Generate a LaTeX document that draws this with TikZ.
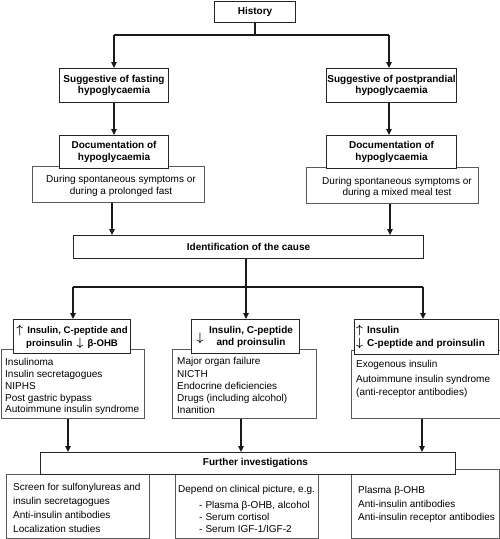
\documentclass[tikz,border=0pt]{standalone}
\usepackage{fontspec}
\setmainfont{Liberation Sans}
\usetikzlibrary{arrows.meta}
\newcommand\uparr{\mbox{\fontsize{12}{12}\selectfont\boldmath$\uparrow$}}
\newcommand\dnarr{\mbox{\fontsize{12}{12}\selectfont\boldmath$\downarrow$}}
\begin{document}
\begin{tikzpicture}[x=1pt,y=-1pt,
  hdr/.style={draw=black!85,fill=white,line width=1.1pt,inner sep=0pt,anchor=north west,
    align=center,font=\fontsize{10}{11.6}\selectfont\bfseries},
  sub/.style={draw=black!65,fill=white,line width=0.9pt,inner sep=0pt,anchor=north west},
  txt/.style={inner sep=0pt,anchor=north west,align=left},
  ln/.style={draw=black!90,line width=1.2pt},
  arr/.style={ln,-{Triangle[length=6pt,width=5.5pt]}}]
\useasboundingbox (0,0) rectangle (500,539);
% top boxes
\node[hdr,minimum width=81pt,minimum height=21pt] (history) at (214,1) {History};
\node[hdr,minimum width=109pt,minimum height=34pt] (fast) at (59,68) {Suggestive of fasting\\hypoglycaemia};
\node[hdr,minimum width=130pt,minimum height=34pt] (post) at (326,68) {Suggestive of postprandial\\hypoglycaemia};
% documentation
\node[sub,minimum width=172pt,minimum height=36pt] (doc1b) at (32,166) {};
\node[inner sep=0pt,align=center,font=\fontsize{10}{11.8}\selectfont] (doc1t) at (121,186) {During spontaneous symptoms or\\during a prolonged fast};
\node[hdr,minimum width=109pt,minimum height=33pt] (doc1) at (59,135) {Documentation of\\hypoglycaemia};
\node[sub,minimum width=172pt,minimum height=36pt] (doc2b) at (306,167) {};
\node[inner sep=0pt,align=center,font=\fontsize{10}{11.8}\selectfont] (doc2t) at (397,187.5) {During spontaneous symptoms or\\during a mixed meal test};
\node[hdr,minimum width=130pt,minimum height=33pt] (doc2) at (326,135) {Documentation of\\hypoglycaemia};
% identification
\node[hdr,minimum width=350pt,minimum height=23pt] (ident) at (73,235) {Identification of the cause};
% cause lists
\node[sub,minimum width=143pt,minimum height=69pt] (h1b) at (1,349) {};
\node[txt,font=\fontsize{10}{11.75}\selectfont] (h1t) at (5,358.4) {Insulinoma\\Insulin secretagogues\\NIPHS\\Post gastric bypass\\Autoimmune insulin syndrome};
\node[hdr,minimum width=117pt,minimum height=34pt,font=\fontsize{9.6}{13}\selectfont\bfseries] (h1) at (13,319) {\uparr\hspace{4pt}Insulin, C-peptide and\\proinsulin\hspace{4pt}\dnarr\hspace{4pt}β-OHB};
\node[sub,minimum width=144pt,minimum height=69pt] (h2b) at (172,349) {};
\node[txt,font=\fontsize{10}{12.2}\selectfont] (h2t) at (177,357.5) {Major organ failure\\NICTH\\Endocrine deficiencies\\Drugs (including alcohol)\\Inanition};
\node[hdr,minimum width=108pt,minimum height=34pt] (h2) at (191,319) {};
\node[inner sep=0pt] (h2a) at (200,338) {\dnarr};
\node[inner sep=0pt,align=center,font=\fontsize{10}{12}\selectfont\bfseries] (h2h) at (251,336.5) {Insulin, C-peptide\\and proinsulin};
\node[sub,minimum width=148.5pt,minimum height=68pt] (h3b) at (351,350) {};
\node[txt,font=\fontsize{10}{13}\selectfont] (h3t) at (356,360.5) {Exogenous insulin\\[2pt]Autoimmune insulin syndrome\\(anti-receptor antibodies)};
\node[hdr,minimum width=144pt,minimum height=35pt] (h3) at (354,319) {};
\node[inner sep=0pt,anchor=west,align=left,font=\fontsize{10}{13.5}\selectfont\bfseries] (h3h) at (356,337) {\uparr\hspace{4pt}Insulin\\\dnarr\hspace{4pt}C-peptide and proinsulin};
% further investigations
\node[sub,minimum width=143pt,minimum height=64pt] (b1) at (6,474) {};
\node[txt,font=\fontsize{10}{14}\selectfont] (b1t) at (13,483.4) {Screen for sulfonylureas and\\insulin secretagogues\\Anti-insulin antibodies\\Localization studies};
\node[sub,minimum width=143pt,minimum height=65pt] (b2) at (175,473) {};
\node[txt,font=\fontsize{10}{12}\selectfont] (b2t) at (178,485.4) {Depend on clinical picture, e.g.\\[4pt]\hspace*{21pt}-\hspace{3pt}Plasma β-OHB, alcohol\\\hspace*{21pt}-\hspace{3pt}Serum cortisol\\\hspace*{21pt}-\hspace{3pt}Serum IGF-1/IGF-2};
\node[sub,minimum width=148pt,minimum height=69pt] (b3) at (351,469) {};
\node[txt,font=\fontsize{10}{13.5}\selectfont] (b3t) at (358,486.4) {Plasma β-OHB\\Anti-insulin antibodies\\Anti-insulin receptor antibodies};
\node[hdr,minimum width=415pt,minimum height=22pt] (further) at (40,452) {};
\node[inner sep=0pt,font=\fontsize{10}{12}\selectfont\bfseries] (furthert) at (255.5,463) {Further investigations};
% connectors
\coordinate (j1) at (255,35);
\coordinate (jl1) at (114,35);
\coordinate (jr1) at (389,35);
\draw[ln] (history.south -| j1) -- (j1);
\draw[ln] (jl1) -- (jr1);
\draw[arr] (jl1) -- (jl1 |- fast.north);
\draw[arr] (jr1) -- (jr1 |- post.north);
\draw[arr] (jl1 |- fast.south) -- (jl1 |- doc1.north);
\draw[arr] (jr1 |- post.south) -- (jr1 |- doc2.north);
\coordinate (xa) at (112,0);
\coordinate (xb) at (390,0);
\draw[arr] (xa |- doc1b.south) -- (xa |- ident.north);
\draw[arr] (xb |- doc2b.south) -- (xb |- ident.north);
\coordinate (xc) at (246,0);
\coordinate (jl2) at (73,287);
\coordinate (jr2) at (423,287);
\draw[arr] (xc |- ident.south) -- (xc |- h2.north);
\draw[ln] (jl2) -- (jr2);
\draw[arr] (jl2) -- (jl2 |- h1.north);
\draw[arr] (jr2) -- (jr2 |- h3.north);
\coordinate (xd) at (68,0);
\coordinate (xe) at (241,0);
\coordinate (xf) at (422,0);
\draw[arr] (xd |- h1b.south) -- (xd |- further.north);
\draw[arr] (xe |- h2b.south) -- (xe |- further.north);
\draw[arr] (xf |- h3b.south) -- (xf |- further.north);
\end{tikzpicture}
\end{document}
